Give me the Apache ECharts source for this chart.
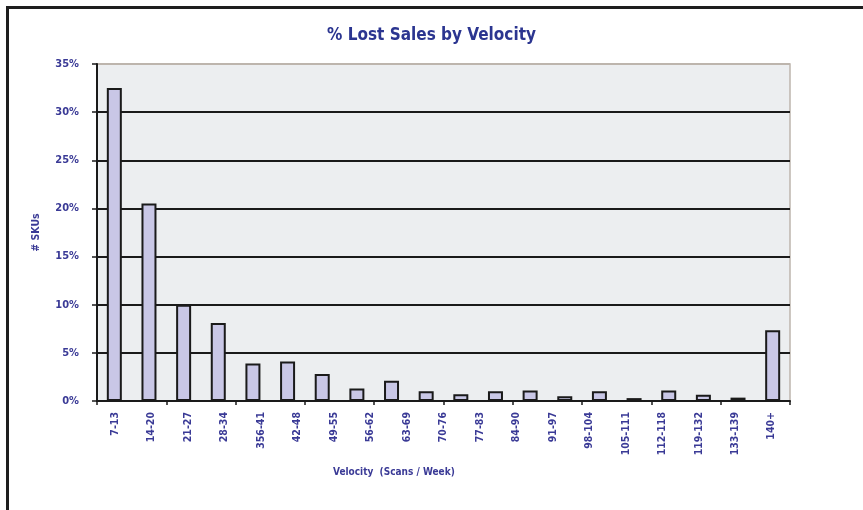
<!DOCTYPE html>
<html>
<head>
<meta charset="utf-8">
<script src="https://cdn.jsdelivr.net/npm/echarts@6/dist/echarts.min.js"></script>
<style>
  html, body { margin: 0; padding: 0; background: #fff; }
  #chart { width: 863px; height: 510px; }
  /* black frame on top and left, like the scanned page */
  #frame { position: absolute; left: 6px; top: 6px; right: 0; bottom: 0;
           border-top: 3px solid #1e1e1e; border-left: 3px solid #1e1e1e; pointer-events: none; }
</style>
</head>
<body>
<div id="chart"></div>
<div id="frame"></div>
<script>
// bins that carry bars (20 of them)
const bins = ["7-13", "14-20", "21-27", "28-34", "35-41", "42-48", "49-55", "56-62", "63-69", "70-76",
  "77-83", "84-90", "91-97", "98-104", "105-111", "112-118", "119-125", "126-132", "133-139", "140+"];
// % lost sales per bin
const lostPct = [32.5, 20.5, 10.0, 8.1, 3.9, 4.1, 2.8, 1.3, 2.1, 1.0,
  0.7, 1.0, 1.1, 0.5, 1.0, 0.3, 1.1, 0.65, 0.35, 7.35];
// the labels printed under the axis (19, as in the original)
const tickLabels = ["7-13", "14-20", "21-27", "28-34", "356-41", "42-48", "49-55", "56-62", "63-69", "70-76",
  "77-83", "84-90", "91-97", "98-104", "105-111", "112-118", "119-132", "133-139", "140+"];

const font = "'DejaVu Sans Condensed', 'Liberation Sans Narrow', sans-serif";
const blue = "#3a3a96";

const chart = echarts.init(document.getElementById("chart"));
chart.setOption({
  animation: false,
  title: [
    {
      text: "% Lost Sales by Velocity",
      left: "center",
      top: 22,
      textStyle: { fontFamily: font, fontWeight: "bold", fontSize: 17, color: "#2b3590" }
    },
    {
      text: "Velocity  (Scans / Week)",
      left: 328,
      top: 462,
      textStyle: { fontFamily: font, fontWeight: "bold", fontSize: 10, color: blue }
    }
  ],
  grid: {
    left: 97, right: 73, top: 64, bottom: 109,
    show: true, backgroundColor: "#eceef0", borderColor: "#bdb5ad", borderWidth: 1.5
  },
  xAxis: [
    {
      type: "category",
      data: bins,
      axisLine: { lineStyle: { color: "#1a1a1a", width: 2 } },
      axisTick: { show: true, length: 4, lineStyle: { color: "#1a1a1a", width: 1.5 } },
      axisLabel: { show: false }
    },
    {
      type: "category",
      data: tickLabels,
      position: "bottom",
      axisLine: { show: false },
      axisTick: { show: false },
      axisLabel: {
        rotate: 90, margin: 11, interval: 0,
        fontFamily: font, fontWeight: "bold", fontSize: 10.5, color: blue
      }
    }
  ],
  yAxis: {
    type: "value",
    min: 0, max: 35, interval: 5,
    name: "# SKUs",
    nameLocation: "middle",
    nameGap: 55,
    nameTextStyle: { fontFamily: font, fontWeight: "bold", fontSize: 10.5, color: blue },
    axisLine: { show: true, lineStyle: { color: "#1a1a1a", width: 2 } },
    axisTick: { show: true, length: 5, lineStyle: { color: "#1a1a1a", width: 1.5 } },
    axisLabel: {
      formatter: "{value}%", margin: 18,
      fontFamily: font, fontWeight: "bold", fontSize: 11, color: blue
    },
    splitLine: {
      lineStyle: {
        color: ["#1a1a1a", "#1a1a1a", "#1a1a1a", "#1a1a1a", "#1a1a1a", "#1a1a1a", "#1a1a1a", "#bdb5ad"],
        width: 2
      }
    }
  },
  series: [
    {
      type: "bar",
      xAxisIndex: 0,
      data: lostPct,
      barWidth: 15,
      itemStyle: { color: "#c9c7e6", borderColor: "#1a1a1a", borderWidth: 2 }
    }
  ]
});
</script>
</body>
</html>
